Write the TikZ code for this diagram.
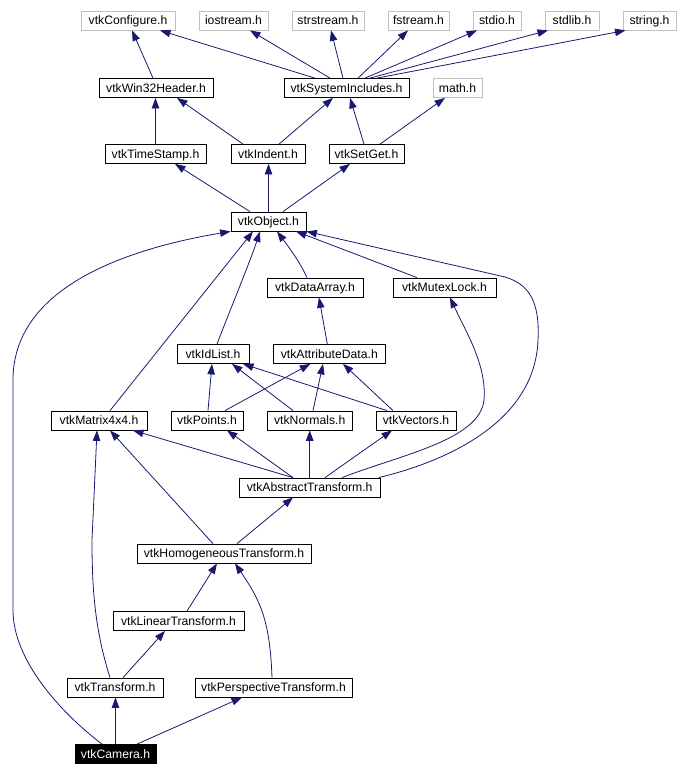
\documentclass[tikz,border=0pt]{standalone}
\usepackage{fontspec}
\setmainfont{Liberation Sans}
\usetikzlibrary{arrows.meta}
\definecolor{edgeblue}{HTML}{191970}
\definecolor{boxgray}{HTML}{BFBFBF}
\begin{document}
\begin{tikzpicture}[x=1pt,y=-1pt,
  hdr/.style={draw=black, line width=0.8pt, inner sep=0pt, minimum height=19pt, text height=8.6pt, text depth=0pt, font=\fontsize{12.2}{14}\selectfont},
  ext/.style={hdr, draw=boxgray},
  cur/.style={hdr, fill=black, text=white},
  inc/.style={draw=edgeblue, line width=0.8pt, -{Triangle[length=10.5pt,width=7.5pt]}, fill=none}]
\useasboundingbox (0,0) rectangle (678,776);
% top row
\node[ext, minimum width=94pt] (conf) at (128,20.5) {vtkConfigure.h};
\node[ext, minimum width=69pt] (ios) at (233.5,20.5) {iostream.h};
\node[ext, minimum width=72pt] (strs) at (328,20.5) {strstream.h};
\node[ext, minimum width=61pt] (fstr) at (418.5,20.5) {fstream.h};
\node[ext, minimum width=48pt] (stdio) at (497,20.5) {stdio.h};
\node[ext, minimum width=54pt] (stdlib) at (572,20.5) {stdlib.h};
\node[ext, minimum width=53pt] (string) at (649.5,20.5) {string.h};
% row 2
\node[hdr, minimum width=114pt] (win32) at (156,88) {vtkWin32Header.h};
\node[hdr, minimum width=125pt] (sysinc) at (346.5,88) {vtkSystemIncludes.h};
\node[ext, minimum width=49pt] (math) at (457.5,88) {math.h};
% row 3
\node[hdr, minimum width=101pt] (tstamp) at (155.5,154) {vtkTimeStamp.h};
\node[hdr, minimum width=74pt] (indent) at (268,154) {vtkIndent.h};
\node[hdr, minimum width=75pt] (setget) at (366.5,154) {vtkSetGet.h};
% row 4
\node[hdr, minimum width=75pt] (object) at (268.5,221.5) {vtkObject.h};
% row 5
\node[hdr, minimum width=96pt] (darray) at (315,287.5) {vtkDataArray.h};
\node[hdr, minimum width=103pt] (mutex) at (444.5,287.5) {vtkMutexLock.h};
% row 6
\node[hdr, minimum width=72pt] (idlist) at (213,354) {vtkIdList.h};
\node[hdr, minimum width=112pt] (attr) at (329.3,354) {vtkAttributeData.h};
% row 7
\node[hdr, minimum width=96pt] (matrix) at (99,420.5) {vtkMatrix4x4.h};
\node[hdr, minimum width=72pt] (points) at (207,420.5) {vtkPoints.h};
\node[hdr, minimum width=85pt] (normals) at (309.7,420.5) {vtkNormals.h};
\node[hdr, minimum width=80pt] (vectors) at (416,420.5) {vtkVectors.h};
% row 8
\node[hdr, minimum width=141pt] (abstr) at (309.7,487.5) {vtkAbstractTransform.h};
% row 9
\node[hdr, minimum width=174pt] (homog) at (224,553.5) {vtkHomogeneousTransform.h};
% row 10
\node[hdr, minimum width=131pt] (linear) at (178.5,621) {vtkLinearTransform.h};
% row 11
\node[hdr, minimum width=96pt] (transf) at (115,687.5) {vtkTransform.h};
\node[hdr, minimum width=157pt] (persp) at (273.5,687.5) {vtkPerspectiveTransform.h};
% row 12
\node[cur, minimum width=81pt] (camera) at (115.5,754) {vtkCamera.h};

% edges
\draw[inc] ([xshift=-3pt]win32.north) -- ([xshift=4pt]conf.south);
\draw[inc] ([xshift=-31.5pt]sysinc.north) -- ([xshift=32pt]conf.south);
\draw[inc] ([xshift=-16.5pt]sysinc.north) -- ([xshift=16.5pt]ios.south);
\draw[inc] ([xshift=-3.5pt]sysinc.north) -- ([xshift=3pt]strs.south);
\draw[inc] ([xshift=11.5pt]sysinc.north) -- ([xshift=-10.5pt]fstr.south);
\draw[inc] ([xshift=18.5pt]sysinc.north) -- ([xshift=-20pt]stdio.south);
\draw[inc] ([xshift=23.5pt]sysinc.north) -- ([xshift=-24pt]stdlib.south);
\draw[inc] ([xshift=30.5pt]sysinc.north) -- ([xshift=-24pt]string.south);
\draw[inc] (tstamp.north) -- (tstamp.north |- win32.south);
\draw[inc] ([xshift=-25pt]indent.north) -- ([xshift=21pt]win32.south);
\draw[inc] ([xshift=11pt]indent.north) -- ([xshift=-13.5pt]sysinc.south);
\draw[inc] ([xshift=-2.5pt]setget.north) -- ([xshift=3.5pt]sysinc.south);
\draw[inc] ([xshift=13.5pt]setget.north) -- ([xshift=-12.5pt]math.south);
\draw[inc] ([xshift=-18.5pt]object.north) -- ([xshift=19.5pt]tstamp.south);
\draw[inc] (object.north) -- (object.north |- indent.south);
\draw[inc] ([xshift=14.5pt]object.north) -- ([xshift=-16.5pt]setget.south);
\draw[inc] ([xshift=-8pt]darray.north) .. controls (300,262) and (288,246) .. ([xshift=8.5pt]object.south);
\draw[inc] ([xshift=-27.5pt]mutex.north) -- ([xshift=27.5pt]object.south);
\draw[inc] ([xshift=4pt]idlist.north) .. controls (228,315) and (250,262) .. ([xshift=-8.5pt]object.south);
\draw[inc] ([xshift=11pt]matrix.north) -- ([xshift=-15.5pt]object.south);
\draw[inc] ([xshift=-13.5pt]camera.north) .. controls (60,712) and (13,660) .. (13,610) -- (13,380) .. controls (13,290) and (120,250) .. (object.south west);
\draw[inc] ([xshift=-2pt]attr.north) -- ([xshift=4pt]darray.south);
\draw[inc] ([xshift=1pt]points.north) -- ([xshift=-1pt]idlist.south);
\draw[inc] ([xshift=18pt]points.north) -- ([xshift=-19pt]attr.south);
\draw[inc] ([xshift=-16.7pt]normals.north) -- ([xshift=19pt]idlist.south);
\draw[inc] ([xshift=3.3pt]normals.north) -- ([xshift=-6.3pt]attr.south);
\draw[inc] ([xshift=-29pt]vectors.north) -- ([xshift=30pt]idlist.south);
\draw[inc] ([xshift=-23pt]vectors.north) -- ([xshift=13.7pt]attr.south);
\draw[inc] ([xshift=-16.7pt]abstr.north) -- ([xshift=34pt]matrix.south);
\draw[inc] ([xshift=-16.7pt]abstr.north) -- ([xshift=20pt]points.south);
\draw[inc] (abstr.north) -- (normals.south);
\draw[inc] ([xshift=15.3pt]abstr.north) -- ([xshift=-24pt]vectors.south);
\draw[inc] ([xshift=32.3pt]abstr.north) .. controls (400,455) and (480,440) .. (484,400) .. controls (487,365) and (465,330) .. ([xshift=5.5pt]mutex.south);
\draw[inc] ([xshift=-2pt]abstr.north east) .. controls (440,463) and (535,425) .. (538,340) .. controls (540,300) and (528,284) .. (505,277) -- (object.south east);
\draw[inc] ([xshift=-11pt]homog.north) -- ([xshift=11pt]matrix.south);
\draw[inc] ([xshift=13pt]homog.north) -- ([xshift=-16.7pt]abstr.south);
\draw[inc] ([xshift=8.5pt]linear.north) -- ([xshift=-7pt]homog.south);
\draw[inc] ([xshift=-1.5pt]persp.north) .. controls (270,620) and (260,600) .. ([xshift=11pt]homog.south);
\draw[inc] ([xshift=8pt]transf.north) -- ([xshift=-13.5pt]linear.south);
\draw[inc] ([xshift=-5pt]transf.north) .. controls (95,630) and (92,590) .. (92,540) -- ([xshift=-2pt]matrix.south);
\draw[inc] (camera.north) -- (camera.north |- transf.south);
\draw[inc] ([xshift=21.5pt]camera.north) -- ([xshift=-31.5pt]persp.south);
\end{tikzpicture}
\end{document}
